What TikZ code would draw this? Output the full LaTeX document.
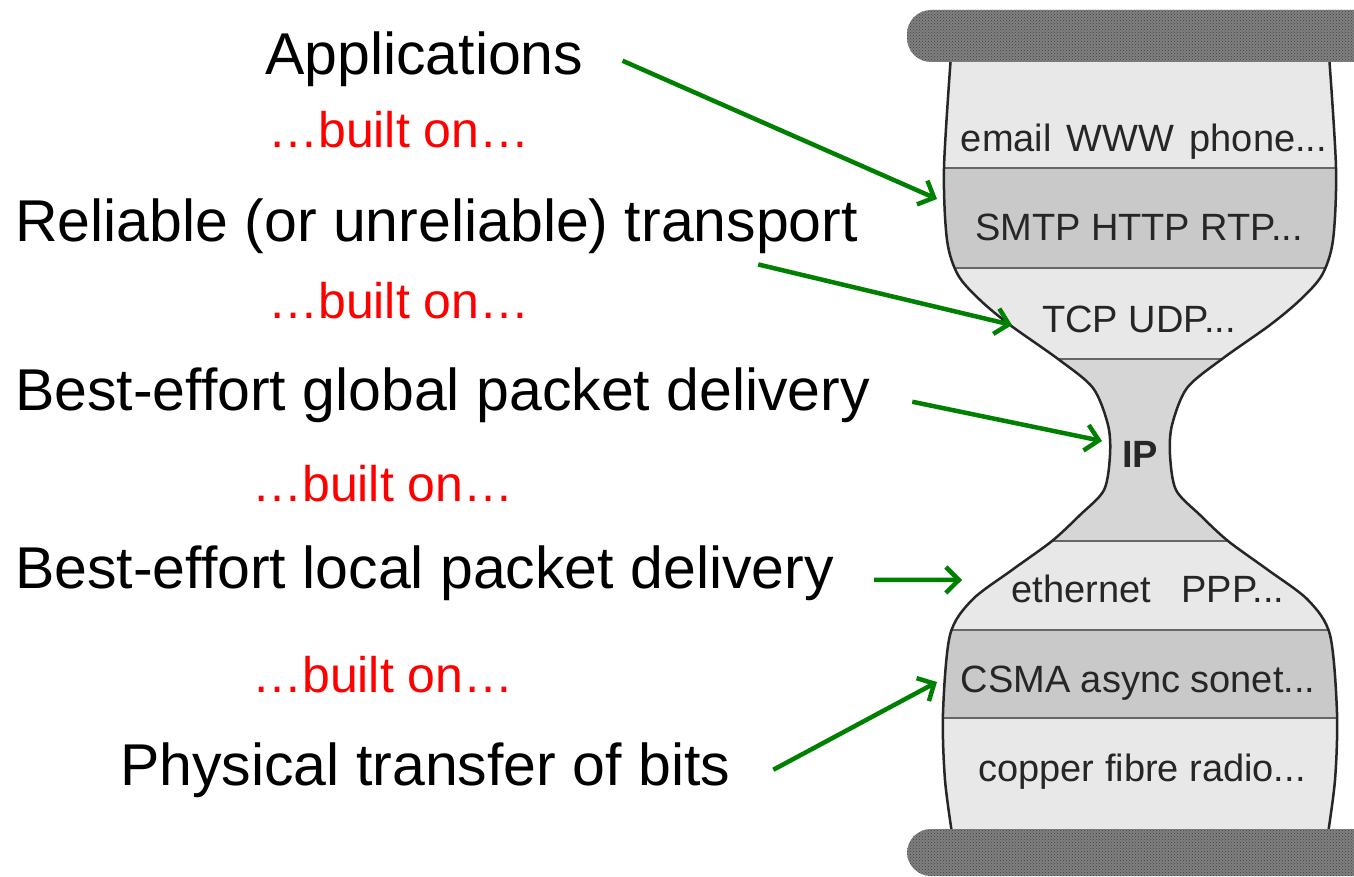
\documentclass[tikz,border=0pt]{standalone}
\usepackage{fontspec}
\setmainfont{Liberation Sans}
\usetikzlibrary{patterns,arrows.meta}

\definecolor{laylight}{gray}{0.91}
\definecolor{laydark}{gray}{0.79}
\definecolor{laymid}{gray}{0.84}
\definecolor{arrgreen}{RGB}{0,128,0}

\tikzset{
  big/.style={anchor=base west, inner sep=0pt, font=\fontsize{59}{70}\selectfont},
  builton/.style={anchor=base west, inner sep=0pt, text=red, font=\fontsize{50}{60}\selectfont},
  layer/.style={anchor=base, inner sep=0pt, text=black!85, font=\fontsize{38}{45}\selectfont},
  arr/.style={-{Straight Barb[length=13pt,width=26pt]}, draw=arrgreen, line width=4.5pt},
  divline/.style={draw=black!60, line width=2.5pt},
  bar/.style={fill=black!50, pattern color=black!75, rounded corners=24pt},
}

% outline of the hourglass
\newcommand{\glass}{plot[smooth] coordinates {(1329,55) (1336,168) (1333,240) (1322,275) (1300,300) (1270,325) (1222,359) (1187,388) (1172,425) (1170,455) (1176,490) (1200,515) (1228,541) (1268,570) (1308,600) (1330,635) (1337,713) (1335,780) (1327,840)}
  -- plot[smooth] coordinates {(953,840) (945,780) (943,713) (950,635) (972,600) (1012,570) (1052,541) (1080,515) (1104,490) (1110,455) (1108,425) (1093,388) (1058,359) (1010,325) (980,300) (958,275) (947,240) (944,168) (951,55)} -- cycle}

\begin{document}
\begin{tikzpicture}[x=1pt, y=-1pt]
\useasboundingbox (0,0) rectangle (1354,877);

% layers of the hourglass
\begin{scope}
\clip \glass;
\fill[laylight] (900,40) rectangle (1360,168);
\fill[laydark] (900,168) rectangle (1360,268);
\fill[laylight] (900,268) rectangle (1360,359);
\fill[laymid] (900,359) rectangle (1360,541);
\fill[laylight] (900,541) rectangle (1360,630);
\fill[laydark] (900,630) rectangle (1360,718);
\fill[laylight] (900,718) rectangle (1360,860);
\draw[divline] (900,168) -- (1360,168);
\draw[divline] (900,268) -- (1360,268);
\draw[divline] (900,359) -- (1360,359);
\draw[divline] (900,541) -- (1360,541);
\draw[divline] (900,630) -- (1360,630);
\draw[divline] (900,718) -- (1360,718);
\end{scope}
\draw[line width=2.5pt, black!85] \glass;

% top and bottom bars
\fill[bar] (907,10) rectangle (1390,62);
\fill[bar, pattern=crosshatch dots] (907,10) rectangle (1390,62);
\fill[bar] (907,829) rectangle (1390,876);
\fill[bar, pattern=crosshatch dots] (907,829) rectangle (1390,876);

\node[layer] (email) at (1144,152) {email\hspace{0.4em}WWW\hspace{0.4em}phone...};
\node[layer] (smtp) at (1139,241) {SMTP\ HTTP\ RTP...};
\node[layer] (tcp) at (1139,332) {TCP\ UDP...};
\node[layer, font=\fontsize{38}{45}\selectfont\bfseries] (ip) at (1140,467) {IP};
\node[layer] (eth) at (1148,602) {ethernet\hspace{0.8em}PPP...};
\node[layer] (csma) at (1138,692) {CSMA\ async\ sonet...};
\node[layer] (copper) at (1142,781) {copper\ fibre\ radio...};

\node[big] (app) at (265,75) {Applications};
\node[builton] (on1) at (268,148) {…built on…};
\node[big] (rel) at (15,242) {Reliable (or unreliable) transport};
\node[builton] (on2) at (268,318) {…built on…};
\node[big] (glob) at (15,410) {Best-effort global packet delivery};
\node[builton] (on3) at (252,501) {…built on…};
\node[big] (loc) at (15,588) {Best-effort local packet delivery};
\node[builton] (on4) at (252,692) {…built on…};
\node[big] (phys) at (120,785) {Physical transfer of bits};

\coordinate (smtpin) at (937,199);
\coordinate (tcpin) at (1012,325);
\coordinate (ipin) at (1102,441);
\coordinate (ethin) at (962,580);
\coordinate (csmain) at (937,682);

\draw[arr] ([xshift=39pt,yshift=-1pt]app.east) -- (smtpin);
\draw[arr] ([xshift=-100pt,yshift=-10pt]rel.south east) -- (tcpin);
\draw[arr] ([xshift=42pt,yshift=-7pt]glob.east) -- (ipin);
\draw[arr] ([xshift=40pt,yshift=-7pt]loc.east) -- (ethin);
\draw[arr] ([xshift=43pt]phys.east) -- (csmain);
\end{tikzpicture}
\end{document}
